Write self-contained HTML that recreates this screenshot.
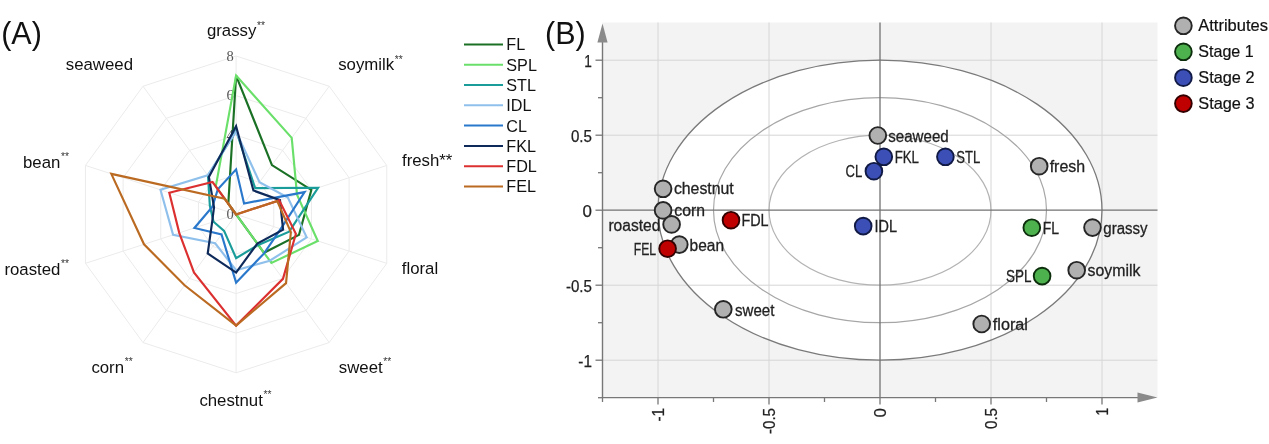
<!DOCTYPE html>
<html><head><meta charset="utf-8"><title>chart</title><style>
html,body{margin:0;padding:0;background:#fff;width:1269px;height:444px;overflow:hidden;}
svg{display:block;will-change:transform;}
text{font-family:"Liberation Sans",sans-serif;}
</style></head><body>
<svg width="1269" height="444" viewBox="0 0 1269 444">
<text x="1.2" y="44" font-size="30.5" fill="#111">(A)</text>
<g fill="none" stroke="#ebebeb" stroke-width="1"><polygon points="236.10,174.80 259.38,182.36 273.76,202.16 273.76,226.64 259.38,246.44 236.10,254.00 212.82,246.44 198.44,226.64 198.44,202.16 212.82,182.36"/><polygon points="236.10,135.20 282.65,150.33 311.42,189.93 311.42,238.87 282.65,278.47 236.10,293.60 189.55,278.47 160.78,238.87 160.78,189.93 189.55,150.33"/><polygon points="236.10,95.60 305.93,118.29 349.09,177.69 349.09,251.11 305.93,310.51 236.10,333.20 166.27,310.51 123.11,251.11 123.11,177.69 166.27,118.29"/><polygon points="236.10,56.00 329.21,86.25 386.75,165.45 386.75,263.35 329.21,342.55 236.10,372.80 142.99,342.55 85.45,263.35 85.45,165.45 142.99,86.25"/><line x1="236.10" y1="214.40" x2="236.10" y2="56.00"/><line x1="236.10" y1="214.40" x2="329.21" y2="86.25"/><line x1="236.10" y1="214.40" x2="386.75" y2="165.45"/><line x1="236.10" y1="214.40" x2="386.75" y2="263.35"/><line x1="236.10" y1="214.40" x2="329.21" y2="342.55"/><line x1="236.10" y1="214.40" x2="236.10" y2="372.80"/><line x1="236.10" y1="214.40" x2="142.99" y2="342.55"/><line x1="236.10" y1="214.40" x2="85.45" y2="263.35"/><line x1="236.10" y1="214.40" x2="85.45" y2="165.45"/><line x1="236.10" y1="214.40" x2="142.99" y2="86.25"/></g>
<g font-size="14.5" fill="#555" text-anchor="end"><text style="font-family:'Liberation Serif',serif" x="233.7" y="219.4">0</text><text style="font-family:'Liberation Serif',serif" x="233.7" y="140.0">4</text><text style="font-family:'Liberation Serif',serif" x="233.7" y="100.4">6</text><text style="font-family:'Liberation Serif',serif" x="233.7" y="60.8">8</text></g>
<polygon points="236.10,75.53 271.94,165.07 311.33,189.96 299.01,234.84 263.97,252.76 236.10,214.40 236.10,214.40 236.10,214.40 236.10,214.40 228.31,203.68" fill="none" stroke="#1a7024" stroke-width="2.15" stroke-linejoin="miter"/>
<polygon points="236.10,75.53 291.73,137.83 297.02,194.61 317.77,240.94 271.41,263.00 236.10,214.40 236.10,214.40 236.10,214.40 236.10,214.40 215.78,186.43" fill="none" stroke="#6ae06a" stroke-width="2.15" stroke-linejoin="miter"/>
<polygon points="236.10,130.72 255.19,188.13 318.06,187.77 289.16,231.64 258.29,244.95 236.10,258.13 224.10,230.92 213.55,221.73 209.86,205.87 207.99,175.71" fill="none" stroke="#1a9d9a" stroke-width="2.15" stroke-linejoin="miter"/>
<polygon points="236.10,131.71 259.52,182.16 287.83,197.59 306.69,237.33 269.77,260.74 236.10,270.19 215.14,243.25 173.09,234.87 160.49,189.83 207.64,175.23" fill="none" stroke="#8fc0ec" stroke-width="2.15" stroke-linejoin="miter"/>
<polygon points="236.10,169.37 244.06,203.44 304.60,192.14 280.73,228.90 264.27,253.17 236.10,282.64 221.52,234.47 194.41,227.95 212.41,206.70 217.83,189.25" fill="none" stroke="#2a78cc" stroke-width="2.15" stroke-linejoin="miter"/>
<polygon points="236.10,126.23 253.43,190.54 279.97,200.15 283.09,229.67 257.30,243.58 236.10,272.58 207.70,253.49 212.13,222.19 214.02,207.23 208.87,176.92" fill="none" stroke="#0e2a5a" stroke-width="2.15" stroke-linejoin="miter"/>
<polygon points="236.10,214.40 236.10,214.40 279.21,200.39 295.89,233.83 282.95,278.88 236.10,325.58 193.94,272.43 179.25,232.87 169.30,192.70 212.56,182.00" fill="none" stroke="#dc3030" stroke-width="2.15" stroke-linejoin="miter"/>
<polygon points="236.10,214.40 236.10,214.40 277.22,201.04 290.86,232.19 286.05,283.15 236.10,325.58 184.57,285.32 144.01,244.32 111.32,173.86 224.68,198.68" fill="none" stroke="#bb6a22" stroke-width="2.15" stroke-linejoin="miter"/>
<text x="206.9" y="36.2" font-size="16.8" fill="#111">grassy<tspan font-size="10.2" dx="0.7" dy="-7.6" fill="#333">**</tspan></text>
<text x="338.2" y="70.2" font-size="16.8" fill="#111">soymilk<tspan font-size="10.2" dx="0.7" dy="-7.6" fill="#333">**</tspan></text>
<text x="65.8" y="69.6" font-size="16.8" fill="#111">seaweed</text>
<text x="23.0" y="167.6" font-size="16.8" fill="#111">bean<tspan font-size="10.2" dx="0.7" dy="-7.6" fill="#333">**</tspan></text>
<text x="4.4" y="274.8" font-size="16.8" fill="#111">roasted<tspan font-size="10.2" dx="0.7" dy="-7.6" fill="#333">**</tspan></text>
<text x="401.8" y="273.8" font-size="16.8" fill="#111">floral</text>
<text x="91.4" y="372.6" font-size="16.8" fill="#111">corn<tspan font-size="10.2" dx="0.7" dy="-7.6" fill="#333">**</tspan></text>
<text x="338.8" y="372.6" font-size="16.8" fill="#111">sweet<tspan font-size="10.2" dx="0.7" dy="-7.6" fill="#333">**</tspan></text>
<text x="199.4" y="405.6" font-size="16.8" fill="#111">chestnut<tspan font-size="10.2" dx="0.7" dy="-7.6" fill="#333">**</tspan></text>
<text x="402.0" y="165.6" font-size="16.8" fill="#111">fresh**</text>
<line x1="464" y1="44.4" x2="503" y2="44.4" stroke="#1a7024" stroke-width="2.0"/><text x="506.3" y="50.3" font-size="16.2" fill="#111">FL</text>
<line x1="464" y1="64.7" x2="503" y2="64.7" stroke="#6ae06a" stroke-width="2.0"/><text x="506.3" y="70.6" font-size="16.2" fill="#111">SPL</text>
<line x1="464" y1="85.0" x2="503" y2="85.0" stroke="#1a9d9a" stroke-width="2.0"/><text x="506.3" y="90.9" font-size="16.2" fill="#111">STL</text>
<line x1="464" y1="105.3" x2="503" y2="105.3" stroke="#8fc0ec" stroke-width="2.0"/><text x="506.3" y="111.2" font-size="16.2" fill="#111">IDL</text>
<line x1="464" y1="125.6" x2="503" y2="125.6" stroke="#2a78cc" stroke-width="2.0"/><text x="506.3" y="131.5" font-size="16.2" fill="#111">CL</text>
<line x1="464" y1="145.9" x2="503" y2="145.9" stroke="#0e2a5a" stroke-width="2.0"/><text x="506.3" y="151.8" font-size="16.2" fill="#111">FKL</text>
<line x1="464" y1="166.2" x2="503" y2="166.2" stroke="#dc3030" stroke-width="2.0"/><text x="506.3" y="172.1" font-size="16.2" fill="#111">FDL</text>
<line x1="464" y1="186.5" x2="503" y2="186.5" stroke="#bb6a22" stroke-width="2.0"/><text x="506.3" y="192.4" font-size="16.2" fill="#111">FEL</text>
<text x="545" y="43.6" font-size="30.5" fill="#111">(B)</text>
<rect x="602.5" y="22.5" width="555.0" height="375.0" fill="#f3f3f3"/>
<ellipse cx="880" cy="210.2" rx="222" ry="150" fill="#fff"/>
<g stroke="#d6d6d6" stroke-width="1"><line x1="658.0" y1="22.5" x2="658.0" y2="397.5"/><line x1="602.5" y1="360.2" x2="1157.5" y2="360.2"/><line x1="769.0" y1="22.5" x2="769.0" y2="397.5"/><line x1="602.5" y1="285.2" x2="1157.5" y2="285.2"/><line x1="991.0" y1="22.5" x2="991.0" y2="397.5"/><line x1="602.5" y1="135.2" x2="1157.5" y2="135.2"/><line x1="1102.0" y1="22.5" x2="1102.0" y2="397.5"/><line x1="602.5" y1="60.2" x2="1157.5" y2="60.2"/></g>
<ellipse cx="880" cy="210.2" rx="111" ry="75" fill="none" stroke="#b3b3b3" stroke-width="1.2"/>
<ellipse cx="880" cy="210.2" rx="166.5" ry="112.5" fill="none" stroke="#a6a6a6" stroke-width="1.2"/>
<ellipse cx="880" cy="210.2" rx="222" ry="150" fill="none" stroke="#7a7a7a" stroke-width="1.3"/>
<line x1="880" y1="22.5" x2="880" y2="397.5" stroke="#727272" stroke-width="1.3"/>
<line x1="602.5" y1="210.2" x2="1157.5" y2="210.2" stroke="#727272" stroke-width="1.3"/>
<line x1="602.5" y1="40" x2="602.5" y2="398" stroke="#777" stroke-width="1.4"/>
<line x1="602" y1="397.6" x2="1140" y2="397.6" stroke="#777" stroke-width="1.4"/>
<polygon points="597.4,42.5 602.5,23.5 607.6,42.5" fill="#8a8a8a"/>
<polygon points="1137.5,392.6 1157.5,397.6 1137.5,402.6" fill="#8a8a8a"/>
<g stroke="#777" stroke-width="1.3"><line x1="598.0" y1="397.7" x2="602.5" y2="397.7"/><line x1="602.5" y1="397.6" x2="602.5" y2="402.0"/><line x1="595.5" y1="360.2" x2="602.5" y2="360.2"/><line x1="658.0" y1="397.6" x2="658.0" y2="404.5"/><line x1="598.0" y1="322.7" x2="602.5" y2="322.7"/><line x1="713.5" y1="397.6" x2="713.5" y2="402.0"/><line x1="595.5" y1="285.2" x2="602.5" y2="285.2"/><line x1="769.0" y1="397.6" x2="769.0" y2="404.5"/><line x1="598.0" y1="247.7" x2="602.5" y2="247.7"/><line x1="824.5" y1="397.6" x2="824.5" y2="402.0"/><line x1="595.5" y1="210.2" x2="602.5" y2="210.2"/><line x1="880.0" y1="397.6" x2="880.0" y2="404.5"/><line x1="598.0" y1="172.7" x2="602.5" y2="172.7"/><line x1="935.5" y1="397.6" x2="935.5" y2="402.0"/><line x1="595.5" y1="135.2" x2="602.5" y2="135.2"/><line x1="991.0" y1="397.6" x2="991.0" y2="404.5"/><line x1="598.0" y1="97.7" x2="602.5" y2="97.7"/><line x1="1046.5" y1="397.6" x2="1046.5" y2="402.0"/><line x1="595.5" y1="60.2" x2="602.5" y2="60.2"/><line x1="1102.0" y1="397.6" x2="1102.0" y2="404.5"/></g>
<text x="591.9" y="66.8" font-size="16" fill="#222" stroke="#222" stroke-width="0.25" text-anchor="end" textLength="7.6" lengthAdjust="spacingAndGlyphs">1</text>
<text x="591.9" y="141.8" font-size="16" fill="#222" stroke="#222" stroke-width="0.25" text-anchor="end" textLength="21.0" lengthAdjust="spacingAndGlyphs">0.5</text>
<text x="591.9" y="216.8" font-size="16" fill="#222" stroke="#222" stroke-width="0.25" text-anchor="end" textLength="9.4" lengthAdjust="spacingAndGlyphs">0</text>
<text x="591.9" y="291.8" font-size="16" fill="#222" stroke="#222" stroke-width="0.25" text-anchor="end" textLength="26.0" lengthAdjust="spacingAndGlyphs">-0.5</text>
<text x="591.9" y="366.8" font-size="16" fill="#222" stroke="#222" stroke-width="0.25" text-anchor="end" textLength="13.6" lengthAdjust="spacingAndGlyphs">-1</text>
<text transform="translate(663.9,408.0) rotate(-90)" font-size="16" fill="#222" stroke="#222" stroke-width="0.25" text-anchor="end" textLength="13.6" lengthAdjust="spacingAndGlyphs">-1</text>
<text transform="translate(774.9,408.0) rotate(-90)" font-size="16" fill="#222" stroke="#222" stroke-width="0.25" text-anchor="end" textLength="26.0" lengthAdjust="spacingAndGlyphs">-0.5</text>
<text transform="translate(885.9,408.0) rotate(-90)" font-size="16" fill="#222" stroke="#222" stroke-width="0.25" text-anchor="end" textLength="9.4" lengthAdjust="spacingAndGlyphs">0</text>
<text transform="translate(996.9,408.0) rotate(-90)" font-size="16" fill="#222" stroke="#222" stroke-width="0.25" text-anchor="end" textLength="21.0" lengthAdjust="spacingAndGlyphs">0.5</text>
<text transform="translate(1107.9,408.0) rotate(-90)" font-size="16" fill="#222" stroke="#222" stroke-width="0.25" text-anchor="end" textLength="7.6" lengthAdjust="spacingAndGlyphs">1</text>
<circle cx="1092.5" cy="227.6" r="8.35" fill="#b0b0b0" stroke="#262626" stroke-width="1.9"/><text x="1103.3" y="234.0" font-size="15.6" fill="#222" stroke="#222" stroke-width="0.28" textLength="44.3" lengthAdjust="spacingAndGlyphs">grassy</text>
<circle cx="1076.7" cy="270.2" r="8.35" fill="#b0b0b0" stroke="#262626" stroke-width="1.9"/><text x="1087.6" y="276.4" font-size="15.6" fill="#222" stroke="#222" stroke-width="0.28" textLength="52.8" lengthAdjust="spacingAndGlyphs">soymilk</text>
<circle cx="1039.2" cy="166.2" r="8.35" fill="#b0b0b0" stroke="#262626" stroke-width="1.9"/><text x="1049.7" y="171.6" font-size="15.6" fill="#222" stroke="#222" stroke-width="0.28" textLength="35.5" lengthAdjust="spacingAndGlyphs">fresh</text>
<circle cx="981.7" cy="324.0" r="8.35" fill="#b0b0b0" stroke="#262626" stroke-width="1.9"/><text x="992.8" y="329.8" font-size="15.6" fill="#222" stroke="#222" stroke-width="0.28" textLength="35.1" lengthAdjust="spacingAndGlyphs">floral</text>
<circle cx="723.3" cy="309.3" r="8.35" fill="#b0b0b0" stroke="#262626" stroke-width="1.9"/><text x="735.0" y="315.7" font-size="15.6" fill="#222" stroke="#222" stroke-width="0.28" textLength="39.4" lengthAdjust="spacingAndGlyphs">sweet</text>
<circle cx="663.1" cy="188.8" r="8.35" fill="#b0b0b0" stroke="#262626" stroke-width="1.9"/><text x="673.9" y="194.3" font-size="15.6" fill="#222" stroke="#222" stroke-width="0.28" textLength="59.8" lengthAdjust="spacingAndGlyphs">chestnut</text>
<circle cx="663.1" cy="210.4" r="8.35" fill="#b0b0b0" stroke="#262626" stroke-width="1.9"/><text x="674.3" y="216.2" font-size="15.6" fill="#222" stroke="#222" stroke-width="0.28" textLength="30.7" lengthAdjust="spacingAndGlyphs">corn</text>
<circle cx="671.6" cy="224.4" r="8.35" fill="#b0b0b0" stroke="#262626" stroke-width="1.9"/><text x="608.4" y="230.8" font-size="15.6" fill="#222" stroke="#222" stroke-width="0.28" textLength="52.0" lengthAdjust="spacingAndGlyphs">roasted</text>
<circle cx="679.3" cy="244.6" r="8.35" fill="#b0b0b0" stroke="#262626" stroke-width="1.9"/><text x="689.6" y="251.1" font-size="15.6" fill="#222" stroke="#222" stroke-width="0.28" textLength="34.5" lengthAdjust="spacingAndGlyphs">bean</text>
<circle cx="877.8" cy="135.5" r="8.35" fill="#b0b0b0" stroke="#262626" stroke-width="1.9"/><text x="888.2" y="141.5" font-size="15.6" fill="#222" stroke="#222" stroke-width="0.28" textLength="60.5" lengthAdjust="spacingAndGlyphs">seaweed</text>
<circle cx="1031.8" cy="227.7" r="8.35" fill="#4db24d" stroke="#0d2e0d" stroke-width="1.9"/><text x="1042.7" y="233.6" font-size="15.9" fill="#222" stroke="#222" stroke-width="0.28" textLength="16.3" lengthAdjust="spacingAndGlyphs">FL</text>
<circle cx="1042.1" cy="276.1" r="8.35" fill="#4db24d" stroke="#0d2e0d" stroke-width="1.9"/><text x="1006.1" y="282.0" font-size="15.9" fill="#222" stroke="#222" stroke-width="0.28" textLength="25.4" lengthAdjust="spacingAndGlyphs">SPL</text>
<circle cx="945.4" cy="156.8" r="8.35" fill="#3b4fb6" stroke="#111a44" stroke-width="1.9"/><text x="956.3" y="163.2" font-size="15.9" fill="#222" stroke="#222" stroke-width="0.28" textLength="23.9" lengthAdjust="spacingAndGlyphs">STL</text>
<circle cx="863.2" cy="226.1" r="8.35" fill="#3b4fb6" stroke="#111a44" stroke-width="1.9"/><text x="874.6" y="232.3" font-size="15.9" fill="#222" stroke="#222" stroke-width="0.28" textLength="22.5" lengthAdjust="spacingAndGlyphs">IDL</text>
<circle cx="883.8" cy="156.8" r="8.35" fill="#3b4fb6" stroke="#111a44" stroke-width="1.9"/><text x="894.7" y="163.2" font-size="15.9" fill="#222" stroke="#222" stroke-width="0.28" textLength="24.3" lengthAdjust="spacingAndGlyphs">FKL</text>
<circle cx="873.9" cy="171.2" r="8.35" fill="#3b4fb6" stroke="#111a44" stroke-width="1.9"/><text x="845.5" y="177.0" font-size="15.9" fill="#222" stroke="#222" stroke-width="0.28" textLength="16.7" lengthAdjust="spacingAndGlyphs">CL</text>
<circle cx="731.0" cy="220.2" r="8.35" fill="#c00000" stroke="#330000" stroke-width="1.9"/><text x="741.4" y="226.4" font-size="15.9" fill="#222" stroke="#222" stroke-width="0.28" textLength="27.2" lengthAdjust="spacingAndGlyphs">FDL</text>
<circle cx="667.6" cy="248.7" r="8.35" fill="#c00000" stroke="#330000" stroke-width="1.9"/><text x="633.7" y="255.2" font-size="15.9" fill="#222" stroke="#222" stroke-width="0.28" textLength="22.4" lengthAdjust="spacingAndGlyphs">FEL</text>
<circle cx="1183.4" cy="25.8" r="8.35" fill="#b0b0b0" stroke="#262626" stroke-width="1.9"/><text x="1198.3" y="31.3" font-size="16.4" fill="#111" stroke="#111" stroke-width="0.2" textLength="69.6" lengthAdjust="spacingAndGlyphs">Attributes</text>
<circle cx="1183.4" cy="51.8" r="8.35" fill="#4db24d" stroke="#0d2e0d" stroke-width="1.9"/><text x="1198.3" y="57.2" font-size="16.4" fill="#111" stroke="#111" stroke-width="0.2" textLength="55.4" lengthAdjust="spacingAndGlyphs">Stage 1</text>
<circle cx="1183.4" cy="77.7" r="8.35" fill="#3b4fb6" stroke="#111a44" stroke-width="1.9"/><text x="1198.3" y="83.2" font-size="16.4" fill="#111" stroke="#111" stroke-width="0.2" textLength="56.2" lengthAdjust="spacingAndGlyphs">Stage 2</text>
<circle cx="1183.4" cy="103.6" r="8.35" fill="#c00000" stroke="#330000" stroke-width="1.9"/><text x="1198.3" y="109.1" font-size="16.4" fill="#111" stroke="#111" stroke-width="0.2" textLength="56.2" lengthAdjust="spacingAndGlyphs">Stage 3</text>
</svg>
</body></html>
